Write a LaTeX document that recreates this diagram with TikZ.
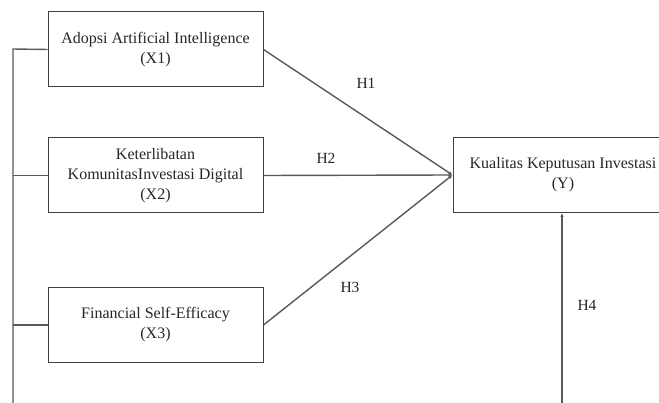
\documentclass[tikz,border=0pt]{standalone}
\usepackage{fontspec}
\setmainfont{Liberation Serif}
\usetikzlibrary{arrows.meta}
\begin{document}
\begin{tikzpicture}[x=1pt,y=-1pt,
  box/.style={draw=black!75,line width=1pt,minimum width=215pt,minimum height=75pt,align=center,inner sep=0pt,text=black!85,font=\fontsize{16}{20}\selectfont},
  conn/.style={draw=black!65,line width=1.4pt},
  arr/.style={conn,-{Latex[length=4pt,width=3.5pt]}},
  lab/.style={text=black!85,font=\fontsize{15.5}{18}\selectfont}]
\useasboundingbox (0,0) rectangle (659,403);
\node[box] (x1) at (155.5,49.5) {Adopsi Artificial Intelligence\\(X1)};
\node[box] (x2) at (155.5,175.5) {Keterlibatan\\KomunitasInvestasi Digital\\(X2)};
\node[box] (x3) at (155.5,325) {Financial Self-Efficacy\\(X3)};
\node[box,minimum width=220pt] (y) at (563,175) {Kualitas Keputusan Investasi\\(Y)};
\coordinate (tip) at (y.west);
\coordinate (lt) at (13,49);
\coordinate (lb) at (13,410);
\coordinate (rb) at (562,410);
\draw[conn] (lb) -- (lt) -- (x1.west);
\draw[conn] (13,175.5) -- (x2.west);
\draw[conn] (13,325) -- (x3.west);
\draw[arr] (x1.east) -- (tip);
\draw[arr] (x2.east) -- (tip);
\draw[arr] (x3.east) -- (tip);
\draw[arr] (rb) -- (y.south -| rb);
\node[lab] (h1) at (366,83) {H1};
\node[lab] (h2) at (326,158) {H2};
\node[lab] (h3) at (350,287) {H3};
\node[lab] (h4) at (587,305) {H4};
\end{tikzpicture}
\end{document}
